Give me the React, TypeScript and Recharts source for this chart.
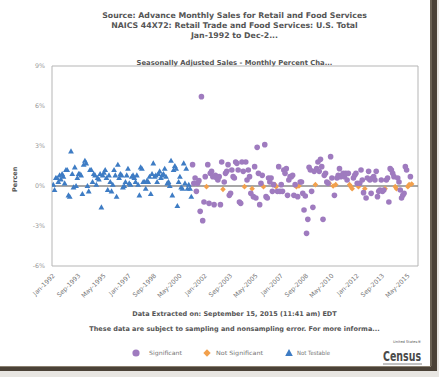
import React from 'react';
import { ScatterChart, Scatter, XAxis, YAxis, ReferenceLine, ReferenceArea } from 'recharts';

// Monthly percent change, Jan-1992 onward (Not Testable period)
const notTestableValues = [
  0.1, -0.3, 0.6, 0.6, 0.3, 0.8, 0.5, 0.9, 0.7, 0.2,
  1.2, 1.2, -0.7, -0.8, 2.6, 0.9, -0.1, 1.4, 0.0, 0.6,
  0.9, 0.9, 0.8, -0.6, 1.6, 1.9, 1.7, 0.0, -0.4, 1.2,
  1.2, 0.3, 0.9, 0.8, 0.1, 0.6, 0.5, 0.9, -1.6, 0.8,
  1.0, 1.2, 0.6, -0.3, 0.8, 0.3, -0.4, 0.1, 1.2, 0.8,
  -0.8, 1.6, 0.6, 0.9, 0.8, -0.1, 0.0, 0.3, 0.8, 1.3,
  0.2, 0.1, 0.7, 0.8, 0.6, 0.3, 0.8, 0.1, -0.7, 1.4,
  1.3, 0.3, 0.3, -0.2, 0.4, 0.3,
  0.7, -0.6, 0.9, 1.7, 0.7, 0.8, 0.3, 0.9, 1.1, 0.6,
  0.8, 0.9, 1.3, 0.7, 0.2, 0.3, 0.0, 1.9, -0.7, 1.2,
  1.5, 1.3, -1.5, 0.3, 0.7, -0.1, -0.2, 1.7, 0.2, 1.3,
  -0.2, 0.1, -0.2, -0.8,
];

// Following months (tested period)
const laterValues = [
  1.6, 0.2, 0.6, -0.4, 0.2, 0.4, -1.9, 6.7, -2.6, -1.2,
  0.7, -0.05, 1.6, -1.3, 0.95, 1.1, 0.7, -1.4, 0.8, 0.6,
  0.45, 0.7, -1.4, 1.8, -0.25, 0.3, 0.95, 1.1, 1.6, -0.7,
  -0.55, 1.2, 0.7, 0.6, 1.8, 1.7, 1.2, -1.2, -1.3, 1.8,
  1.1, -0.05, 1.8, 0.45, 1.2, 0.7, -0.55, -0.2, -0.8, 1.45,
  -0.9, 2.9, 0.95, -1.4, 0.2, 0.8, -0.05, 3.1, -0.8, -0.9,
  0.6, 0.3, 0.6, -0.4, 0.1, 0.1, -0.05, -0.4, 1.45, -0.4,
  0.1, -0.4, 1.2, 0.95, 1.3, -0.7, 0.45, 0.7, 0.7, 0.8,
  -0.7, 0.1, -0.05, -0.8, 0.0, 0.3, 0.3, -0.55, -1.8, -0.75,
  -3.55, -2.5, 1.4, 1.2, -0.4, -1.6, 1.1, 0.1, 1.3, 1.8,
  1.1, 2.0, 1.45, -2.5, 0.8, 0.95, 0.3, 0.2, 0.2,
  2.2, 0.6, 0.0, -0.7, 0.1, 0.6, 0.8, 1.3, 0.7,
  0.8, 0.95, 0.7, 0.95, 0.45, 0.95, 0.1, -0.05, -0.2,
  0.6, 0.8, 0.95, 0.2, -0.05, 0.2, 1.2, 0.45, -0.5, -0.2,
  -0.9, 0.6, 1.1, 0.45, -0.55, 0.6, 0.7, 0.45, 1.1, -0.8,
  -0.4, -0.3, 0.45, -0.4, -0.3, -0.2, 0.45, 0.6, -1.2,
  1.3, 1.2, 0.95, 0.7, -0.05, -0.2, 0.6, 0.3, -0.3, -0.9,
  -0.7, -0.55, 1.45, 1.2, -0.05, 0.1, 0.7, 0.15,
];

// S = Significant, N = Not Significant
const laterFlags = [
  'S','S','S','S','S','S','S','S','S','S',
  'S','N','S','S','S','S','S','S','S','S',
  'S','S','S','S','N','S','S','S','S','S',
  'S','S','S','S','S','S','S','S','S','S',
  'S','N','S','S','S','S','S','N','S','S',
  'S','S','S','S','S','S','N','S','S','S',
  'S','S','S','S','S','N','N','S','S','S',
  'S','S','S','S','S','S','S','S','S','S',
  'S','S','N','S','N','S','S','S','S','S',
  'S','S','S','S','S','S','S','N','S','S',
  'S','S','S','S','S','S','S','S','N',
  'S','S','N','S','N','S','S','S','S',
  'S','S','S','S','S','S','N','N','N',
  'S','S','S','S','N','S','S','S','S','N',
  'S','S','S','S','S','S','S','S','S','S',
  'S','S','S','S','S','N','S','S','S',
  'S','S','S','S','N','N','S','S','S','S',
  'S','S','S','S','N','N','S','N',
];

const xTickLabels = [
  'Jan-1992', 'Sep-1993', 'May-1995', 'Jan-1997', 'Sep-1998', 'May-2000', 'Jan-2002',
  'Sep-2003', 'May-2005', 'Jan-2007', 'Sep-2008', 'May-2010', 'Jan-2012', 'Sep-2013', 'May-2015',
];
const yTicks = [-6, -3, 0, 3, 6, 9];

const PURPLE = '#9f7bbf';
const ORANGE = '#f2a04c';
const BLUE = '#3e7cc4';

const ntData = notTestableValues.map((v, i) => ({ m: i, v }));
const laterData = laterValues.map((v, i) => ({ m: notTestableValues.length + i, v, f: laterFlags[i] }));
const sigData = laterData.filter((d) => d.f === 'S');
const nsData = laterData.filter((d) => d.f === 'N');
const xTicks = xTickLabels.map((_, i) => i * 20);

const CircleShape = (p: any) => <circle cx={p.cx} cy={p.cy} r={2.8} fill={PURPLE} />;
const DiamondShape = (p: any) => (
  <path d={`M${p.cx},${p.cy - 2.8}L${p.cx + 2.8},${p.cy}L${p.cx},${p.cy + 2.8}L${p.cx - 2.8},${p.cy}Z`} fill={ORANGE} />
);
const TriShape = (p: any) => (
  <path d={`M${p.cx},${p.cy - 3}L${p.cx + 2.9},${p.cy + 2.1}L${p.cx - 2.9},${p.cy + 2.1}Z`} fill={BLUE} />
);

const font = '"DejaVu Sans", Verdana, sans-serif';

const XTick = (props: any) => {
  const { x, y, payload } = props;
  const idx = xTicks.indexOf(payload.value);
  return (
    <text
      x={x}
      y={y}
      transform={`rotate(-45 ${x} ${y})`}
      textAnchor="end"
      fontSize={6.3}
      fill="#777"
      fontFamily={font}
      dy={3}
    >
      {xTickLabels[idx]}
    </text>
  );
};

const YTick = (props: any) => {
  const { x, y, payload } = props;
  return (
    <text x={x} y={y} textAnchor="end" fontSize={6.3} fill="#999" fontFamily={font} dy={2}>
      {payload.value}%
    </text>
  );
};

const centered = (top: number, size: number, bold: boolean, text: string, color = '#555') => (
  <div
    style={{
      position: 'absolute',
      left: 0,
      width: 469,
      top,
      textAlign: 'center',
      fontSize: size,
      fontWeight: bold ? 'bold' : 'normal',
      color,
      fontFamily: font,
      whiteSpace: 'nowrap',
      lineHeight: 1,
    }}
  >
    {text}
  </div>
);

export default function App() {
  return (
    <div style={{ position: 'absolute', left: 0, top: 0, width: 439, height: 377, background: '#fff', overflow: 'hidden' }}>
      {centered(11.5, 7.8, true, 'Source: Advance Monthly Sales for Retail and Food Services')}
      {centered(21.8, 7.8, true, 'NAICS 44X72: Retail Trade and Food Services: U.S. Total')}
      {centered(32, 7.8, true, 'Jan-1992 to Dec-2...')}
      {centered(59.5, 6.8, true, 'Seasonally Adjusted Sales - Monthly Percent Cha...')}
      <div style={{ position: 'absolute', left: 0, top: 0 }}>
        <ScatterChart width={439} height={377} margin={{ top: 66, right: 21, bottom: 71, left: 0 }}>
          <XAxis
            type="number"
            dataKey="m"
            domain={[-1, 288]}
            ticks={xTicks}
            tick={<XTick />}
            tickLine={false}
            axisLine={false}
            height={40}
            interval={0}
            allowDataOverflow
          />
          <YAxis
            type="number"
            dataKey="v"
            domain={[-6, 9]}
            ticks={yTicks}
            tick={<YTick />}
            tickLine={false}
            axisLine={false}
            width={52}
            interval={0}
            allowDataOverflow
            tickMargin={1}
          />
          <ReferenceArea x1={-1} x2={288} y1={-6} y2={9} fill="none" stroke="#b5b5b5" strokeWidth={1} />
          <ReferenceLine y={0} stroke="#8a8a8a" strokeWidth={1.5} />
          <Scatter data={ntData} shape={<TriShape />} isAnimationActive={false} />
          <Scatter data={nsData} shape={<DiamondShape />} isAnimationActive={false} />
          <Scatter data={sigData} shape={<CircleShape />} isAnimationActive={false} />
        </ScatterChart>
      </div>
      <div
        style={{
          position: 'absolute',
          left: 15 - 20,
          top: 180 - 4,
          width: 40,
          textAlign: 'center',
          transform: 'rotate(-90deg)',
          fontSize: 6.5,
          fontWeight: 'bold',
          color: '#555',
          fontFamily: font,
          lineHeight: 1,
        }}
      >
        Percen
      </div>
      {centered(311, 6.5, true, 'Data Extracted on: September 15, 2015 (11:41 am) EDT')}
      {centered(325.5, 6.5, true, 'These data are subject to sampling and nonsampling error. For more informa...')}
      <svg style={{ position: 'absolute', left: 0, top: 0 }} width={439} height={377}>
        <circle cx={136} cy={353} r={3.6} fill={PURPLE} />
        <text x={149} y={355.3} fontSize={5.8} fill="#777" fontFamily={font} textLength={33} lengthAdjust="spacingAndGlyphs">Significant</text>
        <path d="M207,349.3L210.7,353L207,356.7L203.3,353Z" fill={ORANGE} />
        <text x={216} y={355.3} fontSize={5.8} fill="#777" fontFamily={font} textLength={47} lengthAdjust="spacingAndGlyphs">Not Significant</text>
        <path d="M289,349L292.8,356L285.2,356Z" fill={BLUE} />
        <text x={297} y={355.3} fontSize={5.8} fill="#777" fontFamily={font} textLength={33} lengthAdjust="spacingAndGlyphs">Not Testable</text>
        <text x={421} y={343} fontSize={3.6} fill="#555" textAnchor="end" fontFamily={font}>United States®</text>
        <text x={383} y={361} fontSize={14} fontWeight="bold" fill="#4a4a4a" textLength={38} lengthAdjust="spacingAndGlyphs" fontFamily={font}>Census</text>
        <line x1={383} y1={364} x2={422} y2={364} stroke="#666" strokeWidth={0.8} />
        <text x={421} y={368.5} fontSize={3} fill="#666" textAnchor="end" fontFamily={font}>Bureau</text>
        <rect x={430} y={0} width={7} height={372} fill="#4b4237" />
        <rect x={430.5} y={0} width={1} height={372} fill="#8a8070" />
        <rect x={0} y={366} width={437} height={5} fill="#4b4237" />
        <rect x={0} y={366} width={431} height={1} fill="#8a8070" />
        <rect x={0} y={371} width={439} height={6} fill="#e8e6e2" />
        <rect x={437} y={0} width={2} height={377} fill="#e8e6e2" />
      </svg>
    </div>
  );
}
